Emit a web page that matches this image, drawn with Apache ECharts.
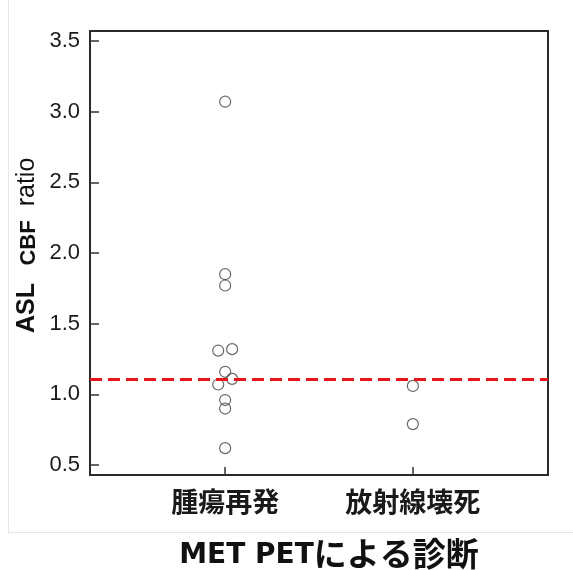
<!DOCTYPE html>
<html>
<head>
<meta charset="utf-8">
<script src="https://cdn.jsdelivr.net/npm/echarts@6/dist/echarts.min.js"></script>
<style>html,body{margin:0;padding:0;background:#fff}#c{width:573px;height:570px}</style>
</head>
<body>
<div id="c"></div>
<script>
// ---- data ----
var categories = ['腫瘍再発', '放射線壊死'];
var tumorValues = [3.07, 1.85, 1.77, 1.31, 1.32, 1.16, 1.11, 1.07, 0.96, 0.90, 0.62];
var tumorJitter = [0, 0, 0, -1, 1, 0, 1, -1, 0, 0, 0];
var necrosisValues = [1.06, 0.79];
var necrosisJitter = [0, 0];
var cutoff = 1.114;
var yTicks = [0.5, 1.0, 1.5, 2.0, 2.5, 3.0, 3.5];
var yAxisTitle = ['ASL', 'CBF', 'ratio'];
var xAxisTitleLatin = 'MET PET';
var xAxisTitleJa = 'による診断';

var JIT = 0.037;
function pts(vals, jit, idx) {
  return vals.map(function (v, i) { return [idx + jit[i] * JIT, v]; });
}

function vText(str, y, size, weight) {
  return {
    type: 'text', x: 40, y: y, rotation: Math.PI / 2, silent: true,
    style: {
      text: str, align: 'center', verticalAlign: 'bottom',
      fontFamily: 'Liberation Sans', fontWeight: weight, fontSize: size, fill: '#111'
    }
  };
}

var chart = echarts.init(document.getElementById('c'), null, {renderer: 'canvas'});
chart.setOption({
  animation: false,
  backgroundColor: '#fff',
  grid: {left: 90, right: 25, top: 31, bottom: 95, show: true, borderColor: '#2a2a2a', borderWidth: 2, backgroundColor: 'transparent'},
  xAxis: {
    type: 'value', min: -0.72, max: 1.72,
    axisLine: {show: false, onZero: false},
    splitLine: {show: false},
    axisTick: {show: true, inside: true, length: 8, customValues: [0, 1], lineStyle: {color: '#333', width: 1.5}},
    axisLabel: {
      customValues: [0, 1], margin: 13,
      formatter: function (v) { return categories[Math.round(v)] || ''; },
      fontFamily: 'Noto Sans CJK JP', fontWeight: 'bold', fontSize: 27, color: '#1a1a1a'
    }
  },
  yAxis: {
    type: 'value', min: 0.43, max: 3.57,
    axisLine: {show: false, onZero: false},
    splitLine: {show: false},
    axisTick: {show: true, inside: true, length: 9, customValues: yTicks, lineStyle: {color: '#333', width: 1.5}},
    axisLabel: {
      customValues: yTicks, margin: 10,
      formatter: function (v) { return v.toFixed(1); },
      fontFamily: 'Liberation Sans', fontSize: 22, color: '#1a1a1a'
    }
  },
  series: [
    {
      type: 'scatter', data: pts(tumorValues, tumorJitter, 0),
      symbol: 'circle', symbolSize: 11,
      itemStyle: {color: 'rgba(255,255,255,0)', borderColor: '#444', borderWidth: 1.2},
      markLine: {
        silent: true, symbol: 'none', label: {show: false},
        lineStyle: {color: '#e8141b', width: 3, type: [12, 6]},
        data: [{yAxis: cutoff}]
      }
    },
    {
      type: 'scatter', data: pts(necrosisValues, necrosisJitter, 1),
      symbol: 'circle', symbolSize: 11,
      itemStyle: {color: 'rgba(255,255,255,0)', borderColor: '#444', borderWidth: 1.2}
    }
  ],
  graphic: [
    {type: 'line', shape: {x1: 8.5, y1: 0, x2: 8.5, y2: 532}, style: {stroke: '#e6e6e6', lineWidth: 1}, silent: true},
    {type: 'line', shape: {x1: 8, y1: 532.5, x2: 573, y2: 532.5}, style: {stroke: '#e6e6e6', lineWidth: 1}, silent: true},
    vText(yAxisTitle[0], 308, 25, 'bold'),
    vText(yAxisTitle[1], 243, 22, 'bold'),
    vText(yAxisTitle[2], 182, 25, 'normal'),
    {
      type: 'text', x: 329, y: 553,
      style: {
        text: '{l|' + xAxisTitleLatin + '}{j|' + xAxisTitleJa + '}', align: 'center', verticalAlign: 'middle',
        rich: {
          l: {fontFamily: 'DejaVu Sans', fontWeight: 'bold', fontSize: 28, lineHeight: 34, verticalAlign: 'bottom', fill: '#111'},
          j: {fontFamily: 'Noto Sans CJK JP', fontWeight: 'bold', fontSize: 33, lineHeight: 34, verticalAlign: 'bottom', fill: '#111'}
        }
      }
    }
  ]
});
</script>
</body>
</html>
